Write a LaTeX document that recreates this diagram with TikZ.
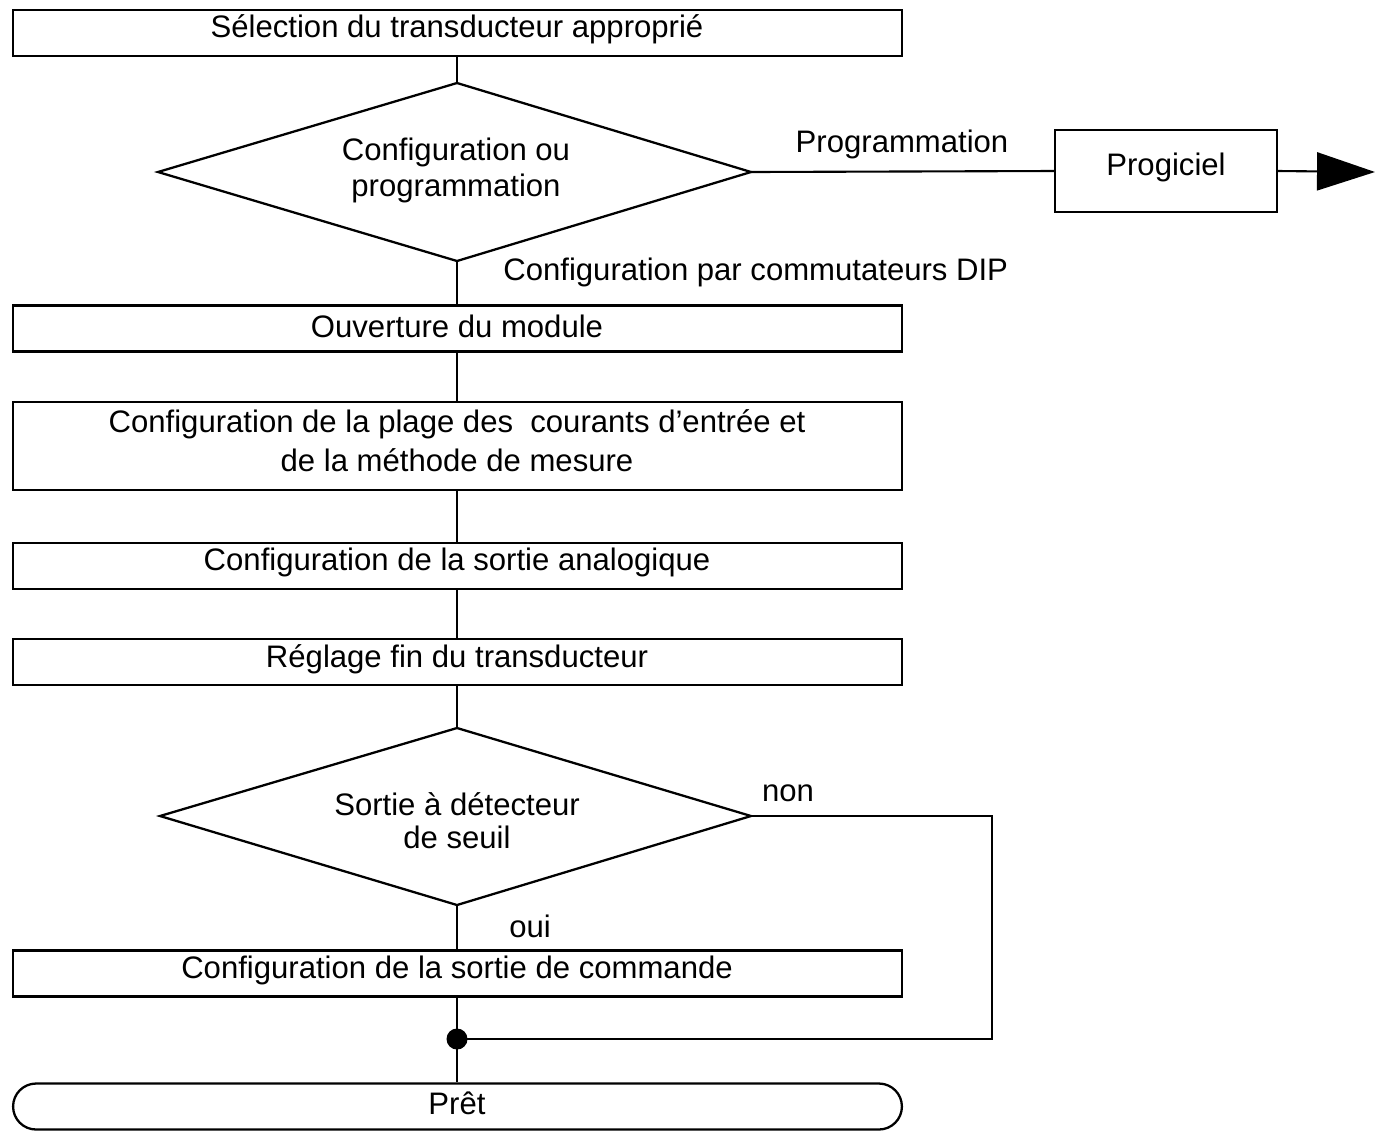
\documentclass[tikz,border=0pt]{standalone}
\usepackage{fontspec}
\setmainfont{Liberation Sans}
\usetikzlibrary{arrows.meta}
\begin{document}
\begin{tikzpicture}[x=0.02cm,y=-0.02cm,
  every node/.style={font=\fontsize{17.7}{22}\selectfont},
  ln/.style={line width=1.2pt},
  box/.style={draw,line width=1.3pt,minimum width=17.78cm,minimum height=0.92cm,inner sep=0pt},
  txt/.style={inner sep=0pt,align=center}]
\useasboundingbox (0,0) rectangle (1378,1137);
% boxes
\node[box] (b1) at (457.5,33) {};
\node[txt] (t1) at (457,29) {Sélection du transducteur approprié};
\node[box] (b2) at (457.5,328.5) {};
\node[txt] (t2) at (457,326) {Ouverture du module};
\node[box,minimum height=1.76cm] (b3) at (457.5,446) {};
\node[txt] (t3) at (457,441) {Configuration de la plage des\ \ courants d’entrée et\\[0.2pt]de la méthode de mesure};
\node[box] (b4) at (457.5,566) {};
\node[txt] (t4) at (457,562) {Configuration de la sortie analogique};
\node[box] (b5) at (457.5,662) {};
\node[txt] (t5) at (457,659) {Réglage fin du transducteur};
\node[box] (b6) at (457.5,973.5) {};
\node[txt] (t6) at (457,970) {Configuration de la sortie de commande};
\node[box,rounded corners=0.46cm] (p) at (457.5,1106.5) {};
\node[txt] (tp) at (457,1103) {Prêt};
% diamond 1
\coordinate (d1t) at (457,83);
\coordinate (d1b) at (457,261);
\coordinate (d1l) at (158,172);
\coordinate (d1r) at (751,172);
\draw[line width=1.3pt] (d1t) -- (d1r) -- (d1b) -- (d1l) -- cycle;
\node[txt] (d1) at (456,170) {Configuration ou\\[-1.5pt]programmation};
% diamond 2
\coordinate (d2t) at (457,728);
\coordinate (d2b) at (457,905);
\coordinate (d2l) at (160,816);
\coordinate (d2r) at (751,816);
\draw[line width=1.3pt] (d2t) -- (d2r) -- (d2b) -- (d2l) -- cycle;
\node[txt] (d2) at (457,821) {Sortie à détecteur\\[-3.2pt]de seuil};
% progiciel
\node[draw,line width=1.3pt,minimum width=4.44cm,minimum height=1.64cm,inner sep=0pt] (prog) at (1166,171) {};
\node[txt] (tprog) at (1166,167) {Progiciel};
\coordinate (aend) at (1375,172);
% labels
\node[txt] (lprog) at (902,144) {Programmation};
\node[txt,anchor=west] (ldip) at (503,272) {Configuration par commutateurs DIP};
\node[txt] (lnon) at (788,793) {non};
\node[txt] (loui) at (530,926) {oui};
% dot
\coordinate (dot) at (457,1039);
\fill (dot) circle (0.21cm);
\coordinate (rc1) at (992,816);
\coordinate (rc2) at (992,1039);
% connectors
\draw[ln] (d1t |- b1.south) -- (d1t);
\draw[ln] (d1b) -- (d1b |- b2.north);
\draw[ln] (dot |- b2.south) -- (dot |- b3.north);
\draw[ln] (dot |- b3.south) -- (dot |- b4.north);
\draw[ln] (dot |- b4.south) -- (dot |- b5.north);
\draw[ln] (dot |- b5.south) -- (d2t);
\draw[ln] (d2b) -- (dot |- b6.north);
\draw[ln] (dot |- b6.south) -- (dot) -- (dot |- p.north);
\draw[ln] (d2r) -- (rc1) -- (rc2) -- (dot);
\draw[ln] (d1r) -- (prog.west);
\draw[ln,-{Triangle[length=1.16cm,width=0.76cm]}] (prog.east) -- (aend);
\end{tikzpicture}
\end{document}
